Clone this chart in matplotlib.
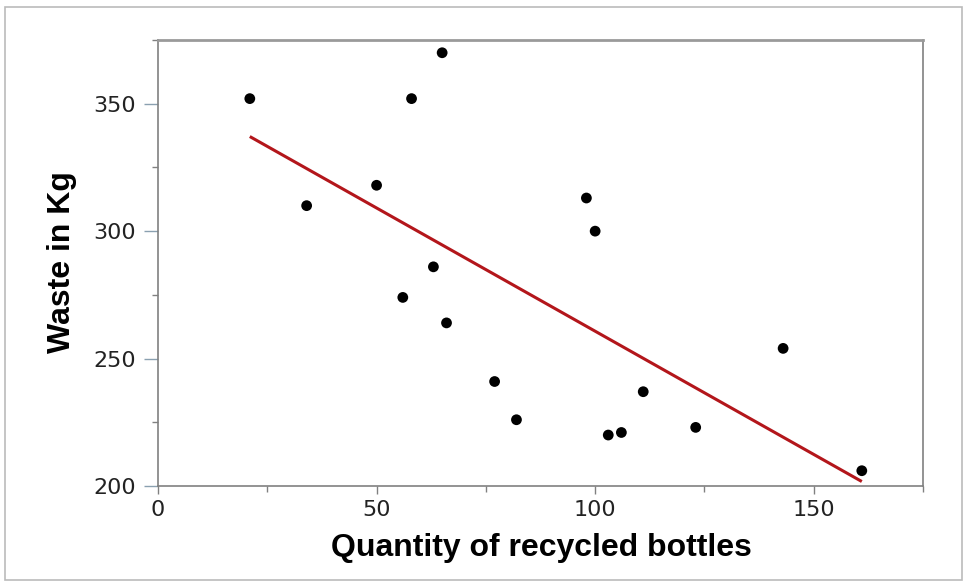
import numpy as np
import matplotlib
matplotlib.use("Agg")
import matplotlib.pyplot as plt
from matplotlib.ticker import MultipleLocator
from matplotlib.patches import Rectangle

bottles = [21, 65, 58, 34, 50, 98, 100, 63, 56, 66, 77, 82, 103, 106, 111, 123, 143, 161]
waste = [352, 370, 352, 310, 318, 313, 300, 286, 274, 264, 241, 226, 220, 221, 237, 223, 254, 206]
x_label = "Quantity of recycled bottles"
y_label = "Waste in Kg"

W, H = 967, 584
fig = plt.figure(figsize=(W / 100, H / 100), dpi=100)
fig.patches.append(Rectangle((0.005, 0.006), 0.99, 0.982, transform=fig.transFigure,
                             fill=False, edgecolor="#bbbbbb", lw=1.2))
ax = fig.add_axes([0.1634, 0.1678, 0.7911, 0.7637])

x = np.array(bottles, float)
y = np.array(waste, float)
m, b = np.polyfit(x, y, 1)
xl = np.array([x.min(), x.max()])
ax.plot(xl, m * xl + b, color="#b3161b", lw=2.2, zorder=2, solid_capstyle="butt")
ax.scatter(x, y, s=60, color="black", zorder=3, edgecolors="none")

ax.set_xlim(0, 175)
ax.set_ylim(200, 375)
ax.xaxis.set_major_locator(MultipleLocator(50))
ax.xaxis.set_minor_locator(MultipleLocator(25))
ax.yaxis.set_major_locator(MultipleLocator(50))
ax.yaxis.set_minor_locator(MultipleLocator(25))

for s in ax.spines.values():
    s.set_color("#808080")
    s.set_linewidth(1.2)
ax.spines["top"].set_linewidth(2.0)
ax.spines["top"].set_color("#9a9a9a")

ax.tick_params(axis="x", which="major", length=6, width=1, color="#808080",
               labelsize=16, labelcolor="#222222", pad=4)
ax.tick_params(axis="y", which="major", length=10, width=1, color="#8aa0b0",
               labelsize=16, labelcolor="#222222", pad=6)
ax.tick_params(which="minor", length=4.5, width=1, color="#808080")

ax.set_xlabel(x_label, fontsize=23, fontweight="bold", family="Liberation Sans")
ax.set_ylabel(y_label, fontsize=23, fontweight="bold", family="Liberation Sans")
ax.xaxis.set_label_coords(541 / W, 1 - 548 / H, transform=fig.transFigure)
ax.yaxis.set_label_coords(62 / W, 1 - 262 / H, transform=fig.transFigure)
ax.xaxis.label.set_va("center")
ax.yaxis.label.set_va("center")

fig.savefig("out.png", dpi=100)
